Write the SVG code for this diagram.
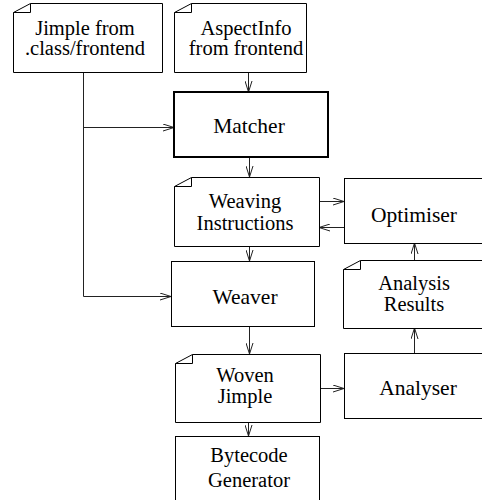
<svg xmlns="http://www.w3.org/2000/svg" width="482" height="500" viewBox="0 0 482 500">
<defs>
<style>
.box{fill:#fff;stroke:#000;stroke-width:1}
.thick{stroke-width:2}
.fold{fill:none;stroke:#000;stroke-width:1}
.c{fill:none;stroke:#222;stroke-width:1;marker-end:url(#ah)}
.l{fill:none;stroke:#222;stroke-width:1}
</style>
<marker id="ah" markerUnits="userSpaceOnUse" markerWidth="12" markerHeight="8" refX="11" refY="4" orient="auto">
<path d="M0,0.5 L11,4 L0,7.5" fill="none" stroke="#222" stroke-width="1"/>
</marker>
</defs>
<rect width="482" height="500" fill="#fff"/>
<g id="connectors">
<path class="l" d="M83.5,72 V296.5"/>
<path class="c" d="M83.5,127.5 H174"/>
<path class="c" d="M83.5,296.5 H171"/>
<path class="c" d="M248.5,72 V92"/>
<path class="c" d="M249.5,157 V177"/>
<path class="c" d="M249.5,246 V261"/>
<path class="c" d="M249.5,326 V354"/>
<path class="c" d="M248.5,422 V436"/>
<path class="c" d="M319,201.5 H344"/>
<path class="c" d="M344,227.5 H319"/>
<path class="c" d="M414.5,260 V243"/>
<path class="c" d="M414.5,353 V328"/>
<path class="c" d="M320,388.5 H344"/>
</g>
<g id="jimple">
<path class="box" d="M13.5,12.5 L30.5,3.5 H162.5 V72.5 H13.5 Z"/>
<path class="fold" d="M30.5,3.5 V12.5 H13.5"/>
<text x="85" y="35" font-family="Liberation Serif" font-size="20.5" text-anchor="middle">Jimple from</text>
<text x="85" y="55" font-family="Liberation Serif" font-size="20.5" text-anchor="middle">.class/frontend</text>
</g>
<g id="aspectinfo">
<path class="box" d="M174.5,12.5 L191.5,3.5 H306.5 V72.5 H174.5 Z"/>
<path class="fold" d="M191.5,3.5 V12.5 H174.5"/>
<text x="246" y="35" font-family="Liberation Serif" font-size="20.5" text-anchor="middle">AspectInfo</text>
<text x="246" y="55" font-family="Liberation Serif" font-size="20.5" text-anchor="middle">from frontend</text>
</g>
<g id="matcher">
<rect class="box thick" x="174" y="92" width="154" height="65"/>
<text x="249" y="133" font-family="Liberation Serif" font-size="21.5" text-anchor="middle">Matcher</text>
</g>
<g id="weaving">
<path class="box" d="M174.5,186.5 L191.5,177.5 H319.5 V246.5 H174.5 Z"/>
<path class="fold" d="M191.5,177.5 V186.5 H174.5"/>
<text x="245" y="208" font-family="Liberation Serif" font-size="20.5" text-anchor="middle">Weaving</text>
<text x="245" y="230" font-family="Liberation Serif" font-size="20.5" text-anchor="middle">Instructions</text>
</g>
<g id="weaver">
<rect class="box" x="171.5" y="261.5" width="143" height="65"/>
<text x="245" y="304" font-family="Liberation Serif" font-size="21.5" text-anchor="middle">Weaver</text>
</g>
<g id="optimiser">
<rect class="box" x="344.5" y="178.5" width="142" height="65"/>
<text x="414" y="222" font-family="Liberation Serif" font-size="21.5" text-anchor="middle">Optimiser</text>
</g>
<g id="analysisresults">
<path class="box" d="M343.5,269.5 L360.5,260.5 H487 V328.5 H343.5 Z"/>
<path class="fold" d="M360.5,260.5 V269.5 H343.5"/>
<text x="414" y="290" font-family="Liberation Serif" font-size="20.5" text-anchor="middle">Analysis</text>
<text x="414" y="311" font-family="Liberation Serif" font-size="20.5" text-anchor="middle">Results</text>
</g>
<g id="woven">
<path class="box" d="M175.5,363.5 L192.5,354.5 H320.5 V422.5 H175.5 Z"/>
<path class="fold" d="M192.5,354.5 V363.5 H175.5"/>
<text x="245" y="382" font-family="Liberation Serif" font-size="20.5" text-anchor="middle">Woven</text>
<text x="245" y="403" font-family="Liberation Serif" font-size="20.5" text-anchor="middle">Jimple</text>
</g>
<g id="analyser">
<rect class="box" x="344.5" y="353.5" width="142" height="65"/>
<text x="418" y="395" font-family="Liberation Serif" font-size="21.5" text-anchor="middle">Analyser</text>
</g>
<g id="bytecode">
<rect class="box" x="175.5" y="436.5" width="144" height="70"/>
<text x="249" y="462" font-family="Liberation Serif" font-size="20.5" text-anchor="middle">Bytecode</text>
<text x="249" y="487" font-family="Liberation Serif" font-size="20.5" text-anchor="middle">Generator</text>
</g>
</svg>
